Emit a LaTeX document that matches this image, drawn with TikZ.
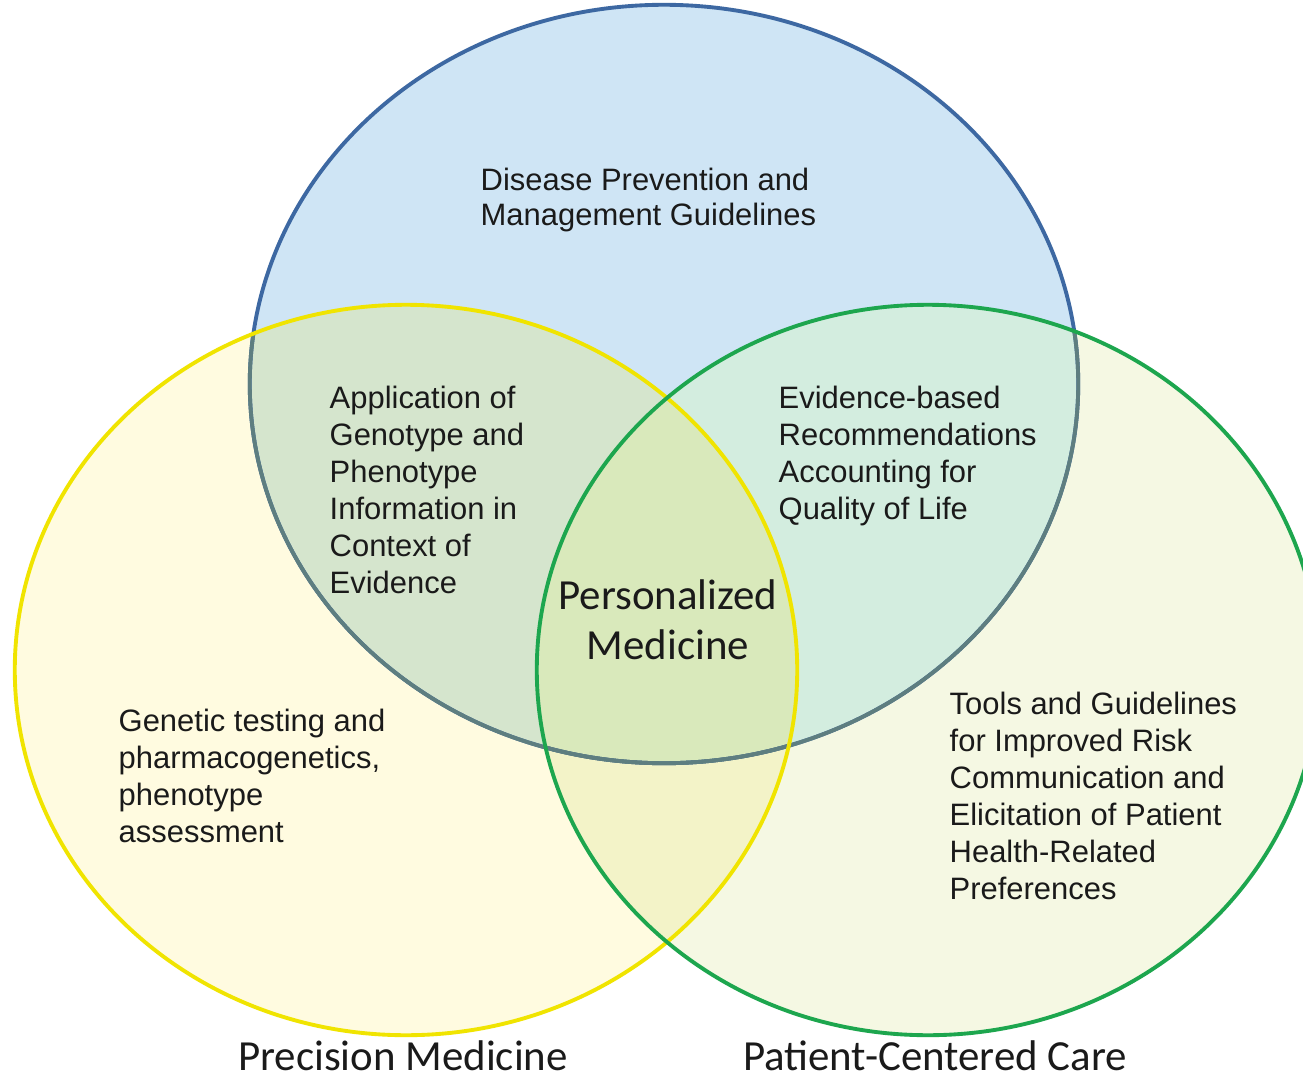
\documentclass[tikz,border=0pt]{standalone}
\usepackage{fontspec}
\setmainfont{Liberation Sans}
\newfontfamily\calibri{Carlito}
\definecolor{Bfill}{HTML}{CFE5F5}
\definecolor{Yfill}{HTML}{FFFBE0}
\definecolor{Gfill}{HTML}{F5F8E3}
\definecolor{BYfill}{HTML}{D5E5CD}
\definecolor{BGfill}{HTML}{D3EDDF}
\definecolor{YGfill}{HTML}{F3F3C8}
\definecolor{BYGfill}{HTML}{D9E9BB}
\definecolor{Bline}{HTML}{3D68A2}
\definecolor{BlineIn}{HTML}{5E7E80}
\definecolor{Yline}{HTML}{F0E400}
\definecolor{Gline}{HTML}{1DA64E}
\definecolor{Txt}{HTML}{1A1A1A}
\tikzset{
  lbl/.style={inner sep=0pt, anchor=north west, align=left, text=Txt,
    font=\fontsize{8.8}{10.55}\selectfont},
  biglbl/.style={inner sep=0pt, align=center, text=Txt,
    font=\calibri\fontsize{12.2}{14.2}\selectfont},
  ring/.style={line width=1.1pt}
}
\newcommand{\Bshape}{(664,384) ellipse [x radius=4.14cm, y radius=3.79cm]}
\newcommand{\Yshape}{(406,670) ellipse [x radius=3.91cm, y radius=3.65cm]}
\newcommand{\Gshape}{(928,670) ellipse [x radius=3.91cm, y radius=3.65cm]}
\begin{document}
\begin{tikzpicture}[x=0.01cm,y=-0.01cm]
\useasboundingbox (0,0) rectangle (1303,1079);
\fill[white] (0,0) rectangle (1303,1079);
% base fills
\fill[Bfill] \Bshape;
\fill[Yfill] \Yshape;
\fill[Gfill] \Gshape;
% overlaps
\begin{scope}\clip \Bshape; \fill[BYfill] \Yshape; \fill[BGfill] \Gshape; \end{scope}
\begin{scope}\clip \Yshape; \fill[YGfill] \Gshape; \end{scope}
\begin{scope}\clip \Bshape; \clip \Yshape; \fill[BYGfill] \Gshape; \end{scope}
% borders
\draw[ring, Bline] \Bshape;
\begin{scope}\clip \Yshape; \draw[ring, BlineIn] \Bshape; \end{scope}
\begin{scope}\clip \Gshape; \draw[ring, BlineIn] \Bshape; \end{scope}
\draw[ring, Yline] \Yshape;
\draw[ring, Gline] \Gshape;
% labels
\node[lbl, font=\fontsize{8.8}{9.95}\selectfont] (disease) at (480,167) {Disease Prevention and\\Management Guidelines};
\node[lbl] (geno) at (329,385) {Application of\\Genotype and\\Phenotype\\Information in\\Context of\\Evidence};
\node[lbl] (evid) at (778,385) {Evidence-based\\Recommendations\\Accounting for\\Quality of Life};
\node[lbl] (genetic) at (118,708) {Genetic testing and\\pharmacogenetics,\\phenotype\\assessment};
\node[lbl] (tools) at (949,691) {Tools and Guidelines\\for Improved Risk\\Communication and\\Elicitation of Patient\\Health-Related\\Preferences};
\node[biglbl, anchor=north] (pm) at (668,579) {Personalized\\Medicine};
\node[biglbl, anchor=north] (prec) at (403,1040) {Precision Medicine};
\node[biglbl, anchor=north] (pcc) at (935,1040) {Patient-Centered Care};
\end{tikzpicture}
\end{document}
